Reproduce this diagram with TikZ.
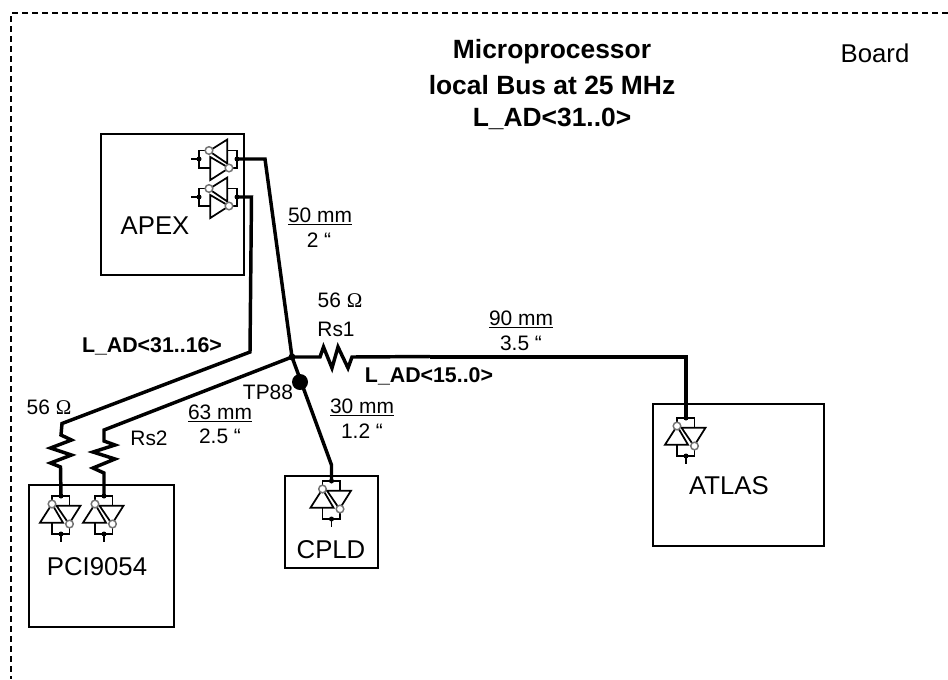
\documentclass[tikz,border=0pt]{standalone}
\usepackage{fontspec}
\setmainfont{Liberation Sans}
\newfontfamily\symfont{Liberation Serif}
\newcommand{\ohm}{{\symfont Ω}}
\tikzset{
  chip/.style={draw,line width=1.2pt},
  wire/.style={line width=2.6pt,line join=miter},
  heavywire/.style={line width=3pt,line join=miter},
  dimtext/.style={font=\fontsize{15.7}{18}\selectfont,inner sep=0pt,anchor=base},
  chiptext/.style={font=\fontsize{19.3}{22}\selectfont,inner sep=0pt,anchor=base},
  bustext/.style={font=\fontsize{19.8}{22}\selectfont\bfseries,inner sep=0pt,anchor=base},
  sigtext/.style={font=\fontsize{16}{18}\selectfont\bfseries,inner sep=0pt,anchor=base},
  pics/transceiver/.style={code={
    \draw[line width=1.3pt] (-4.5,9.7) -- (19.5,9.7) -- (8,28) -- cycle;
    \draw[line width=1.3pt] (-21,26.7) -- (2,26.7) -- (-9,8) -- cycle;
    \draw[line width=1.3pt] (-9,8) -- (-9,0) -- (8.5,0) -- (8.5,9.7);
    \draw[line width=1.3pt] (-9,26.7) -- (-9,38) -- (8.5,38) -- (8.5,28);
    \draw[line width=1.3pt] (0,38) -- (0,46);
    \fill (0,0) circle[radius=2.5];
    \fill (0,38) circle[radius=2.5];
    \draw[draw=black!55,fill=white,line width=1.1pt] (-9,8) circle[radius=3.8];
    \draw[draw=black!55,fill=white,line width=1.1pt] (8.5,28) circle[radius=3.8];
  }}
}
\begin{document}
\begin{tikzpicture}[x=0.75pt,y=-0.75pt]
\useasboundingbox (0,0) rectangle (948,679);

% Board frame
\draw[line width=1.1pt,dash pattern=on 4.5pt off 3pt]
(948,13)
--
(11,13)
--
(11,679);

% Chips
\draw[chip] (101,134) rectangle (244,275);
\draw[chip] (29,485) rectangle (174,627);
\draw[chip] (285,476) rectangle (378,568);
\draw[chip] (653,404) rectangle (824,546);

% Points
\coordinate (apexA) at (237,159);
\coordinate (apexB) at (237,197);
\coordinate (pciA) at (61,496);
\coordinate (pciB) at (104,496);
\coordinate (cpldA) at (331.5,481);
\coordinate (atlasA) at (686,418);
\coordinate (hub) at (292,357);

% Drivers
\pic[cm={0,1,1,0,(0,0)}] at (apexA) {transceiver};
\pic[cm={0,1,1,0,(0,0)}] at (apexB) {transceiver};
\pic at (pciA) {transceiver};
\pic at (pciB) {transceiver};
\pic at (cpldA) {transceiver};
\pic at (atlasA) {transceiver};

% Bus
\draw[wire]
(apexA)
-- (265,159)
-- (hub);

\draw[wire]
(apexB)
-- (251.5,197)
-- (250,352)
-- (62,423.5)
-- (61,435)
-- ++(10.5,5)
-- ++(-21,8)
-- ++(21,7)
-- ++(-21,8)
-- ++(10,4)
-- (pciA);

\draw[wire]
(hub)
-- (104,430)
-- (104,441)
-- ++(11,4)
-- ++(-22,7)
-- ++(22,7)
-- ++(-22,9)
-- ++(11,5)
-- (pciB);

\draw[wire]
(hub)
-- (331.5,465)
-- (cpldA);

\draw[wire]
(hub)
-- (320,357)
-- ++(3.5,-10)
-- ++(8.5,21)
-- ++(6,-21)
-- ++(10,21)
-- ++(4,-11)
-- (430,356.5);

\draw[heavywire]
(430,356.5)
-- (686,356.5)
-- (atlasA);

\fill (hub) circle[radius=3.5];

\node[circle,fill,inner sep=0pt,minimum size=12pt] (tp) at (300,382) {};

% Texts
\node[bustext] (title1) at (552,58) {Microprocessor};
\node[bustext] (title2) at (552,94) {local Bus at 25 MHz};
\node[bustext] (title3) at (552,126) {L\_AD<31..0>};
\node[chiptext] (board) at (875,62) {Board};

\node[chiptext] (apexname) at (155,234) {APEX};
\node[chiptext] (pciname) at (97,575) {PCI9054};
\node[chiptext] (cpldname) at (331,558) {CPLD};
\node[chiptext] (atlasname) at (729,494) {ATLAS};

\node[dimtext] (len1) at (320,222) {\underline{50 mm}};
\node[dimtext] (inch1) at (319,247) {2 “};
\node[dimtext] (len2) at (521,325) {\underline{90 mm}};
\node[dimtext] (inch2) at (521,350) {3.5 “};
\node[dimtext] (len3) at (220,419.5) {\underline{63 mm}};
\node[dimtext] (inch3) at (220,443) {2.5 “};
\node[dimtext] (len4) at (362,413) {\underline{30 mm}};
\node[dimtext] (inch4) at (362,438) {1.2 “};

\node[dimtext] (ohm1) at (340,307) {56 \ohm};
\node[dimtext] (rs1) at (336,336) {Rs1};
\node[dimtext] (ohm2) at (49,414) {56 \ohm};
\node[dimtext] (rs2) at (149,445) {Rs2};
\node[dimtext] (tpname) at (268,399) {TP88};

\node[sigtext] (sigA) at (152,352) {L\_AD<31..16>};
\node[sigtext] (sigB) at (429,382) {L\_AD<15..0>};

\end{tikzpicture}
\end{document}
